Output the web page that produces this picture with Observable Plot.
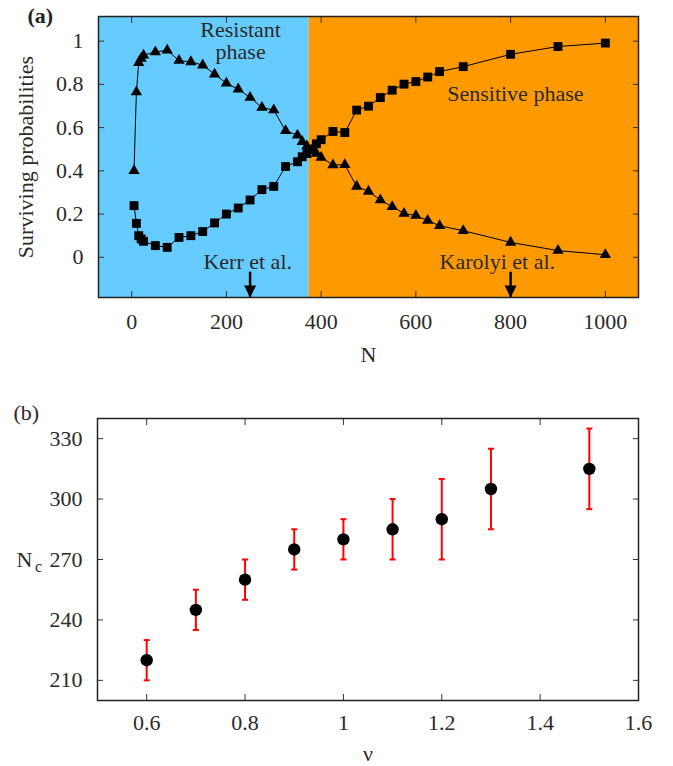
<!DOCTYPE html>
<html>
<head>
<meta charset="utf-8">
<script src="https://cdn.jsdelivr.net/npm/d3@7"></script>
<script src="https://cdn.jsdelivr.net/npm/@observablehq/plot@0.6"></script>
<style>
  html, body { margin: 0; padding: 0; background: white; }
  #chart { width: 673px; }
  #chart svg { display: block; }
</style>
</head>
<body>
<div id="chart"></div>
<script>
// ---------- Panel (a) data ----------
const sizesN = [5, 10, 15, 20, 25, 50, 75, 100, 125, 150, 175, 200, 225, 250, 275, 300, 325, 350, 360, 370, 380, 390, 400, 425, 450, 475, 500, 525, 550, 575, 600, 625, 650, 700, 800, 900, 1000];
const resistantSurvival = [0.40, 0.765, 0.90, 0.92, 0.935, 0.95, 0.958, 0.91, 0.904, 0.889, 0.847, 0.805, 0.778, 0.739, 0.693, 0.681, 0.585, 0.565, 0.535, 0.515, 0.495, 0.48, 0.462, 0.427, 0.428, 0.328, 0.305, 0.265, 0.234, 0.203, 0.193, 0.170, 0.146, 0.123, 0.069, 0.031, 0.012];
const sensitiveSurvival = [0.239, 0.157, 0.10, 0.085, 0.074, 0.054, 0.046, 0.092, 0.10, 0.119, 0.159, 0.20, 0.228, 0.265, 0.313, 0.328, 0.42, 0.442, 0.465, 0.48, 0.50, 0.525, 0.544, 0.582, 0.577, 0.681, 0.699, 0.739, 0.773, 0.801, 0.813, 0.834, 0.859, 0.882, 0.939, 0.975, 0.991];
const phaseBoundaryN = 375;
const referenceStudies = ["Kerr et al.", "Karolyi et al."];
const referenceN = [250, 800];
const xTicksA = [0, 200, 400, 600, 800, 1000];
const yTicksA = [0, 0.2, 0.4, 0.6, 0.8, 1];
const xDomainA = [-70, 1070];
const yDomainA = [-0.186, 1.114];

// ---------- Panel (b) data ----------
const nuValues = [0.6, 0.7, 0.8, 0.9, 1.0, 1.1, 1.2, 1.3, 1.5];
const criticalN = [220, 245, 260, 275, 280, 285, 290, 305, 315];
const criticalNLow = [210, 235, 250, 265, 270, 270, 270, 285, 295];
const criticalNHigh = [230, 255, 270, 285, 290, 300, 310, 325, 335];
const xTicksB = [0.6, 0.8, 1, 1.2, 1.4, 1.6];
const yTicksB = [210, 240, 270, 300, 330];
const xDomainB = [0.5, 1.6];
const yDomainB = [200, 340];

// ---------- tables built from arrays ----------
const resistantRows = sizesN.map((n, i) => ({N: n, p: resistantSurvival[i]}));
const sensitiveRows = sizesN.map((n, i) => ({N: n, p: sensitiveSurvival[i]}));
const phaseRows = [
  {from: xDomainA[0], to: phaseBoundaryN, phase: "Resistant"},
  {from: phaseBoundaryN, to: xDomainA[1], phase: "Sensitive"}
];
const refRows = referenceStudies.map((s, i) => ({study: s, N: referenceN[i]}));
const critRows = nuValues.map((v, i) => ({nu: v, Nc: criticalN[i], lo: criticalNLow[i], hi: criticalNHigh[i]}));

const FONT = "Liberation Serif, Times New Roman, serif";
const TXT = "#2a2a2a";
const FS = 22;

// custom symbols
const downTriangle = {
  draw(ctx, size) {
    const s = Math.sqrt(size);
    ctx.moveTo(0, 0);
    ctx.lineTo(-s / 2, -s);
    ctx.lineTo(s / 2, -s);
    ctx.closePath();
  }
};
const capSymbol = {
  draw(ctx, size) {
    const w = Math.sqrt(size);
    ctx.moveTo(-w / 2, 0);
    ctx.lineTo(w / 2, 0);
  }
};

const fmt = d => String(d);

// ---------- Panel (a) ----------
const plotA = Plot.plot({
  width: 673,
  height: 375,
  marginLeft: 98,
  marginRight: 35,
  marginTop: 16,
  marginBottom: 78,
  style: {fontFamily: FONT, fontSize: FS + "px", color: TXT, background: "white", overflow: "visible"},
  x: {domain: xDomainA},
  y: {domain: yDomainA},
  color: {domain: ["Resistant", "Sensitive"], range: ["#66ccff", "#ff9900"]},
  marks: [
    Plot.rect(phaseRows, {x1: "from", x2: "to", y1: yDomainA[0], y2: yDomainA[1], fill: "phase"}),
    // axes: labels
    Plot.axisX(xTicksA, {anchor: "bottom", tickSize: 0, tickPadding: 16, tickFormat: fmt, label: null, fontSize: FS}),
    Plot.axisY(yTicksA, {anchor: "left", tickSize: 0, tickPadding: 15, tickFormat: fmt, label: null, fontSize: FS}),
    // inward ticks on all four sides
    Plot.axisX(xTicksA, {anchor: "bottom", tickSize: -6, tickFormat: () => "", label: null, stroke: "#333"}),
    Plot.axisX(xTicksA, {anchor: "top", tickSize: -6, tickFormat: () => "", label: null, stroke: "#333"}),
    Plot.axisY(yTicksA, {anchor: "left", tickSize: -6, tickFormat: () => "", label: null, stroke: "#333"}),
    Plot.axisY(yTicksA, {anchor: "right", tickSize: -6, tickFormat: () => "", label: null, stroke: "#333"}),
    // series
    Plot.line(resistantRows, {x: "N", y: "p", stroke: "black", strokeWidth: 1}),
    Plot.line(sensitiveRows, {x: "N", y: "p", stroke: "black", strokeWidth: 1}),
    Plot.dot(resistantRows, {x: "N", y: "p", symbol: "triangle", r: 4.2, fill: "black", stroke: "none"}),
    Plot.dot(sensitiveRows, {x: "N", y: "p", symbol: "square", r: 5, fill: "black", stroke: "none"}),
    // annotations
    Plot.text(["Resistant\nphase"], {x: 230, y: 1.0, text: d => d, fill: TXT, fontSize: FS, lineHeight: 1}),
    Plot.text(["Sensitive phase"], {x: 810, y: 0.755, text: d => d, fill: TXT, fontSize: FS}),
    Plot.text(refRows, {x: d => d.N - (d.N > 500 ? 28 : 5), y: -0.02, text: "study", fill: TXT, fontSize: FS}),
    Plot.ruleX(refRows, {x: "N", y1: -0.069, y2: yDomainA[0], stroke: "black", strokeWidth: 2.5}),
    Plot.dot(refRows, {x: "N", y: yDomainA[0], symbol: downTriangle, r: 6.8, fill: "black", stroke: "none"}),
    Plot.frame({stroke: "#222", strokeWidth: 1.5}),
    // labels
    Plot.text(["N"], {frameAnchor: "bottom", dy: 57, textAnchor: "middle", lineAnchor: "middle", text: d => d, fill: TXT, fontSize: FS}),
    Plot.text(["Surviving probabilities"], {frameAnchor: "left", dx: -73, rotate: -90, textAnchor: "middle", lineAnchor: "middle", text: d => d, fill: TXT, fontSize: FS}),
    Plot.text(["(a)"], {frameAnchor: "top-left", dx: -71, dy: -1, textAnchor: "start", lineAnchor: "middle", text: d => d, fill: "#222", fontSize: FS, fontWeight: "bold"})
  ]
});

// ---------- Panel (b) ----------
const plotB = Plot.plot({
  width: 673,
  height: 391,
  marginLeft: 97,
  marginRight: 35,
  marginTop: 43,
  marginBottom: 66,
  style: {fontFamily: FONT, fontSize: FS + "px", color: TXT, background: "white", overflow: "visible"},
  x: {domain: xDomainB},
  y: {domain: yDomainB},
  marks: [
    Plot.axisX(xTicksB, {anchor: "bottom", tickSize: 0, tickPadding: 14, tickFormat: fmt, label: null, fontSize: FS}),
    Plot.axisY(yTicksB, {anchor: "left", tickSize: 0, tickPadding: 15, tickFormat: fmt, label: null, fontSize: FS}),
    Plot.axisX(xTicksB, {anchor: "bottom", tickSize: -6, tickFormat: () => "", label: null, stroke: "#333"}),
    Plot.axisX(xTicksB, {anchor: "top", tickSize: -6, tickFormat: () => "", label: null, stroke: "#333"}),
    Plot.axisY(yTicksB, {anchor: "left", tickSize: -6, tickFormat: () => "", label: null, stroke: "#333"}),
    Plot.axisY(yTicksB, {anchor: "right", tickSize: -6, tickFormat: () => "", label: null, stroke: "#333"}),
    Plot.ruleX(critRows, {x: "nu", y1: "lo", y2: "hi", stroke: "#ff0000", strokeWidth: 2}),
    Plot.dot(critRows, {x: "nu", y: "lo", symbol: capSymbol, r: 3.4, stroke: "#ff0000", strokeWidth: 2, fill: "none"}),
    Plot.dot(critRows, {x: "nu", y: "hi", symbol: capSymbol, r: 3.4, stroke: "#ff0000", strokeWidth: 2, fill: "none"}),
    Plot.dot(critRows, {x: "nu", y: "Nc", r: 6.2, fill: "black", stroke: "none"}),
    Plot.frame({stroke: "#222", strokeWidth: 1.5}),
    Plot.text(["ν"], {frameAnchor: "bottom", dy: 53, textAnchor: "middle", lineAnchor: "middle", text: d => d, fill: TXT, fontSize: FS}),
    Plot.text(["N"], {frameAnchor: "left", dx: -73, textAnchor: "middle", lineAnchor: "middle", text: d => d, fill: TXT, fontSize: FS}),
    Plot.text(["c"], {frameAnchor: "left", dx: -59, dy: 7, textAnchor: "middle", lineAnchor: "middle", text: d => d, fill: TXT, fontSize: 16}),
    Plot.text(["(b)"], {frameAnchor: "top-left", dx: -84, dy: -6, textAnchor: "start", lineAnchor: "middle", text: d => d, fill: TXT, fontSize: FS})
  ]
});

document.getElementById("chart").append(plotA, plotB);
</script>
</body>
</html>
